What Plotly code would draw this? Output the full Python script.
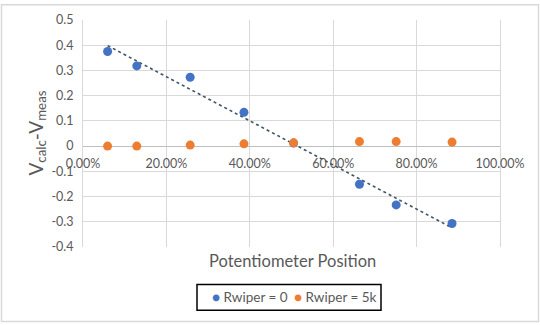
import numpy as np
import plotly.graph_objects as go

# Data
position = [0.059, 0.129, 0.257, 0.386, 0.505, 0.663, 0.751, 0.885]
rwiper_0 = [0.375, 0.318, 0.273, 0.134, 0.012, -0.151, -0.233, -0.307]
rwiper_5k = [0.000, 0.000, 0.004, 0.009, 0.013, 0.018, 0.018, 0.016]
series_names = ["Rwiper = 0", "Rwiper = 5k"]

y_ticks = [0.5, 0.4, 0.3, 0.2, 0.1, 0, -0.1, -0.2, -0.3, -0.4]
y_ticktext = ["0.5", "0.4", "0.3", "0.2", "0.1", "0", "-0.1", "-0.2", "-0.3", "-0.4"]
x_ticks = [0, 0.2, 0.4, 0.6, 0.8, 1.0]
x_ticktext = ["0.00%", "20.00%", "40.00%", "60.00%", "80.00%", "100.00%"]

BLUE = "#4472C4"
ORANGE = "#ED7D31"
FONT = "Lato"
GRAY_TXT = "#595959"

# linear trendline for the Rwiper = 0 series
slope, intercept = np.polyfit(position, rwiper_0, 1)
tx = [min(position), max(position)]
ty = [slope * v + intercept for v in tx]

fig = go.Figure()
fig.add_trace(go.Scatter(x=tx, y=ty, mode="lines", showlegend=False,
                         line=dict(color="#3E5565", width=1.6, dash="dot"),
                         hoverinfo="skip"))
fig.add_trace(go.Scatter(x=position, y=rwiper_0, mode="markers", name=series_names[0],
                         marker=dict(color=BLUE, size=9), showlegend=False))
fig.add_trace(go.Scatter(x=position, y=rwiper_5k, mode="markers", name=series_names[1],
                         marker=dict(color=ORANGE, size=9), showlegend=False))

L, R, T, B = 83, 40, 17, 78
W, H = 540, 325
pw, ph = W - L - R, H - T - B

def px_x(p):
    return (p - L) / pw

def px_y(p):
    return (H - B - p) / ph

legend_annots = [
    dict(text=f'<span style="color:{BLUE}">●</span> {series_names[0]}',
         xref="paper", yref="paper", x=px_x(210), y=px_y(298),
         xanchor="left", yanchor="middle", showarrow=False,
         font=dict(family=FONT, size=13.5, color=GRAY_TXT)),
    dict(text=f'<span style="color:{ORANGE}">●</span> {series_names[1]}',
         xref="paper", yref="paper", x=px_x(292), y=px_y(298),
         xanchor="left", yanchor="middle", showarrow=False,
         font=dict(family=FONT, size=13.5, color=GRAY_TXT)),
]

fig.update_layout(
    width=W, height=H,
    margin=dict(l=L, r=R, t=T, b=B),
    paper_bgcolor="white", plot_bgcolor="white",
    font=dict(family=FONT, color=GRAY_TXT, size=12),
    showlegend=False,
    xaxis=dict(range=[0, 1], tickvals=x_ticks, ticktext=x_ticktext,
               showgrid=True, gridcolor="#d9d9d9", gridwidth=1,
               zeroline=False, showline=False, ticks="",
               anchor="free", position=0.4 / 0.9, ticklabelstandoff=8,
               tickfont=dict(family=FONT, size=12.5, color=GRAY_TXT)),
    yaxis=dict(range=[-0.4, 0.5], tickvals=y_ticks, ticktext=y_ticktext,
               showgrid=True, gridcolor="#d9d9d9", gridwidth=1,
               zeroline=True, zerolinecolor="#bfbfbf", zerolinewidth=1.2,
               showline=True, mirror=True, linecolor="#d9d9d9", linewidth=1,
               ticks="", ticklabelstandoff=6,
               tickfont=dict(family=FONT, size=12.5, color=GRAY_TXT)),
    annotations=[
        dict(text="Potentiometer Position", xref="paper", yref="paper",
             x=px_x(292), y=px_y(261), showarrow=False,
             xanchor="center", yanchor="middle",
             font=dict(family=FONT, size=16.5, color=GRAY_TXT)),
        dict(text="V<sub>calc</sub>-V<sub>meas</sub>", xref="paper", yref="paper",
             x=px_x(36), y=px_y(132), showarrow=False, textangle=-90,
             xanchor="center", yanchor="middle",
             font=dict(family=FONT, size=19, color=GRAY_TXT)),
    ] + legend_annots,
    shapes=[
        dict(type="rect", xref="paper", yref="paper",
             x0=px_x(1.5), x1=px_x(538.5), y0=px_y(322.5), y1=px_y(1.5),
             line=dict(color="#d9d9d9", width=1.5), layer="below"),
        dict(type="rect", xref="paper", yref="paper",
             x0=px_x(197), x1=px_x(381), y0=px_y(311), y1=px_y(285),
             line=dict(color="black", width=1.5), fillcolor="white", layer="below"),
    ],
)

fig.write_html("out.html")
